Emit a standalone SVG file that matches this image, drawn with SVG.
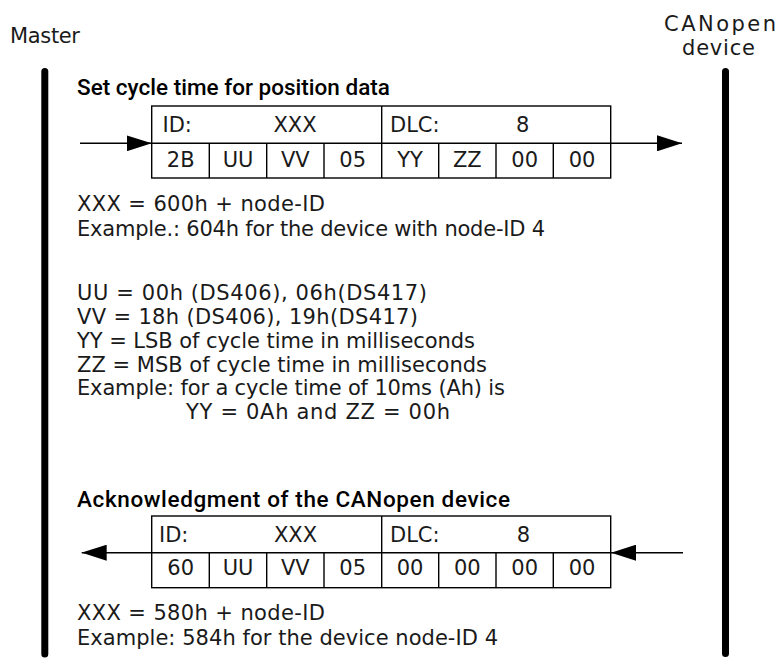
<svg xmlns="http://www.w3.org/2000/svg" width="779" height="659" viewBox="0 0 779 659">
  <style>
    .t { font-family: "DejaVu Sans", "Liberation Sans", sans-serif; font-size: 21px; fill: #1a1a1a; }
    .c { text-anchor: middle; }
    .h { font-family: Roboto, "Liberation Sans", sans-serif; font-weight: 500; font-size: 22.5px; fill: #000; }
    .life { stroke: #000; stroke-width: 7; stroke-linecap: round; fill: none; }
    .box { fill: #fff; stroke: #000; stroke-width: 1.4; }
    .grid { stroke: #000; stroke-width: 1.4; fill: none; }
    .msg { stroke: #000; stroke-width: 1.4; fill: none; marker-end: url(#ah); }
  </style>
  <defs>
    <marker id="ah" viewBox="0 0 25 16" refX="25" refY="8" markerWidth="25" markerHeight="16" markerUnits="userSpaceOnUse" orient="auto">
      <path d="M0,0 L25,8 L0,16 Z" fill="#000"/>
    </marker>
  </defs>
  <rect width="779" height="659" fill="#fff"/>

  <g id="master">
    <text class="t" x="10" y="43" textLength="70">Master</text>
    <line class="life" x1="44.8" y1="71.5" x2="44.8" y2="654"/>
  </g>

  <g id="canopen-device">
    <text class="t" x="664" y="31" textLength="112">CANopen</text>
    <text class="t" x="682" y="55" textLength="73">device</text>
    <line class="life" x1="725.5" y1="71.5" x2="725.5" y2="653.5"/>
  </g>

  <g id="request">
    <text class="h" x="77" y="95" textLength="313">Set cycle time for position data</text>
    <rect class="box" x="151.7" y="106" width="459" height="72"/>
    <path class="grid" d="M151.7,143.3 H610.7 M381.7,106 V178 M209.3,143.3 V178 M266.7,143.3 V178 M324,143.3 V178 M438.7,143.3 V178 M496,143.3 V178 M553.3,143.3 V178"/>
    <text class="t" x="162.5" y="131.5">ID:</text>
    <text class="t c" x="295" y="131.5">XXX</text>
    <text class="t" x="390" y="131.5">DLC:</text>
    <text class="t c" x="522.7" y="131.5">8</text>
    <text class="t c" x="180.7" y="166.5">2B</text>
    <text class="t c" x="238" y="166.5">UU</text>
    <text class="t c" x="295.3" y="166.5">VV</text>
    <text class="t c" x="352.7" y="166.5">05</text>
    <text class="t c" x="410" y="166.5">YY</text>
    <text class="t c" x="467.3" y="166.5">ZZ</text>
    <text class="t c" x="524.7" y="166.5">00</text>
    <text class="t c" x="582" y="166.5">00</text>
  </g>

  <g id="request-notes">
    <text class="t" x="77" y="211" textLength="248">XXX = 600h + node-ID</text>
    <text class="t" x="77" y="236" textLength="468">Example.: 604h for the device with node-ID 4</text>
    <text class="t" x="77" y="300" textLength="350">UU = 00h (DS406), 06h(DS417)</text>
    <text class="t" x="77" y="324" textLength="341">VV = 18h (DS406), 19h(DS417)</text>
    <text class="t" x="77" y="347.5" textLength="398">YY = LSB of cycle time in milliseconds</text>
    <text class="t" x="77" y="371.5" textLength="410">ZZ = MSB of cycle time in milliseconds</text>
    <text class="t" x="77" y="395" textLength="428">Example: for a cycle time of 10ms (Ah) is</text>
    <text class="t" x="186" y="419" textLength="264">YY = 0Ah and ZZ = 00h</text>
  </g>

  <g id="acknowledgment">
    <text class="h" x="77" y="506.5" textLength="433">Acknowledgment of the CANopen device</text>
    <rect class="box" x="151.7" y="516" width="459" height="71.7"/>
    <path class="grid" d="M151.7,552.7 H610.7 M381.7,516 V587.7 M209.3,552.7 V587.7 M266.7,552.7 V587.7 M324,552.7 V587.7 M438.7,552.7 V587.7 M496,552.7 V587.7 M553.3,552.7 V587.7"/>
    <text class="t" x="159" y="541.5">ID:</text>
    <text class="t c" x="295.5" y="541.5">XXX</text>
    <text class="t" x="390" y="541.5">DLC:</text>
    <text class="t c" x="523.5" y="541.5">8</text>
    <text class="t c" x="180.7" y="575">60</text>
    <text class="t c" x="238" y="575">UU</text>
    <text class="t c" x="295.3" y="575">VV</text>
    <text class="t c" x="352.7" y="575">05</text>
    <text class="t c" x="410" y="575">00</text>
    <text class="t c" x="467.3" y="575">00</text>
    <text class="t c" x="524.7" y="575">00</text>
    <text class="t c" x="582" y="575">00</text>
  </g>

  <g id="acknowledgment-notes">
    <text class="t" x="77" y="619.5" textLength="248">XXX = 580h + node-ID</text>
    <text class="t" x="77" y="644.5" textLength="421">Example: 584h for the device node-ID 4</text>
  </g>

  <g id="connectors">
    <line class="msg" x1="80" y1="143.3" x2="151.7" y2="143.3"/>
    <line class="msg" x1="610.7" y1="143.3" x2="682" y2="143.3"/>
    <line class="msg" x1="683" y1="552.7" x2="611" y2="552.7"/>
    <line class="msg" x1="151.7" y1="552.7" x2="81.7" y2="552.7"/>
  </g>
</svg>
